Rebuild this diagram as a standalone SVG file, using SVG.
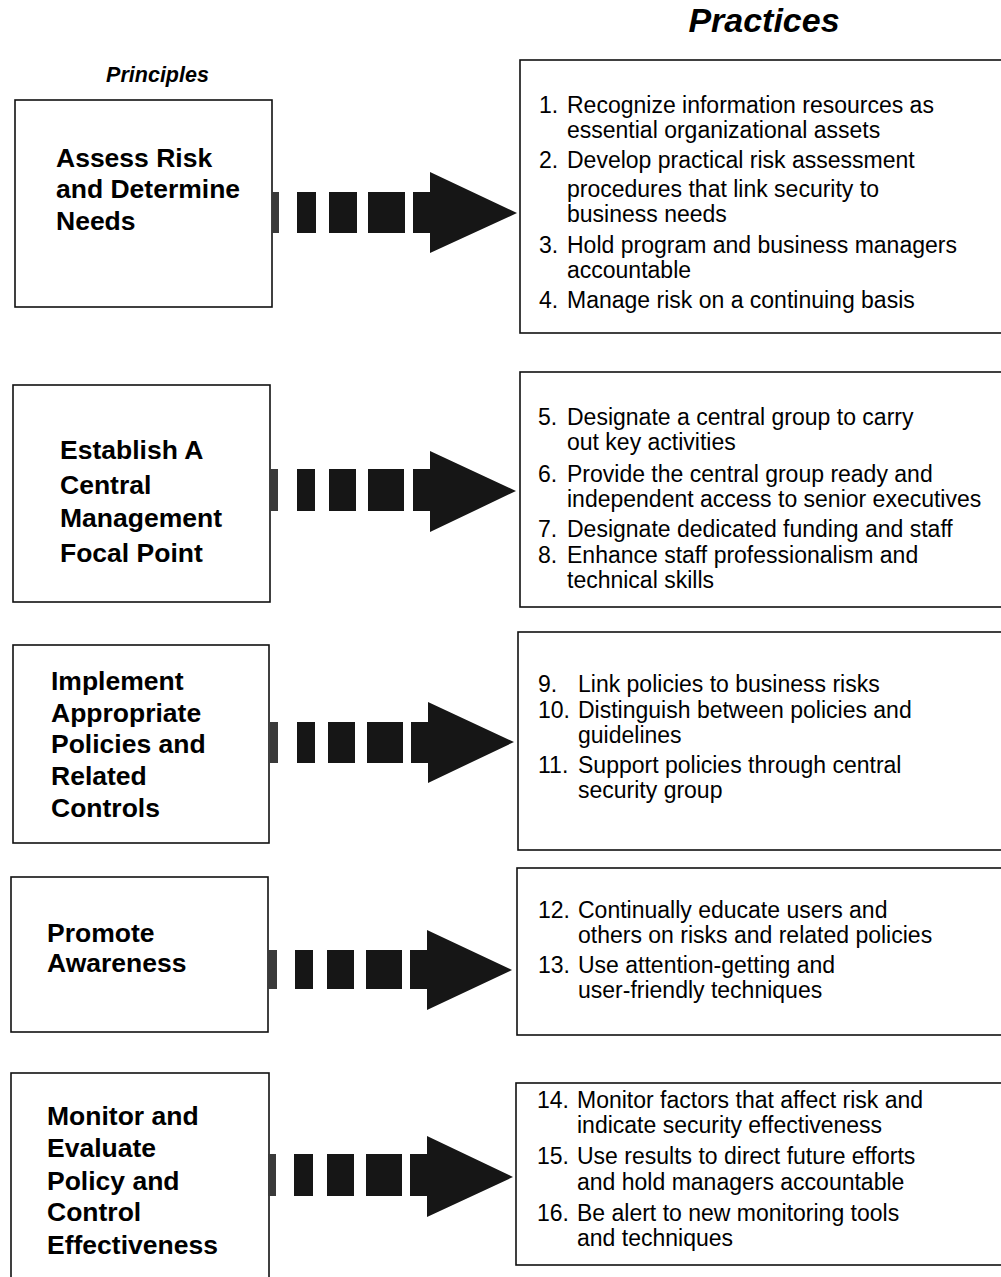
<svg xmlns="http://www.w3.org/2000/svg" width="1001" height="1277" viewBox="0 0 1001 1277">
<style>
  .box { fill: #fff; stroke: #111; stroke-width: 1.6; }
  .ptitle { font-family: "Liberation Sans", Arial, sans-serif; font-weight: bold; font-size: 26.5px; fill: #000; }
  .prac { font-family: "Liberation Sans", Arial, sans-serif; font-size: 23px; fill: #000; }
  .head { font-family: "Liberation Sans", Arial, sans-serif; font-weight: bold; font-style: italic; fill: #000; }
  .blk { fill: #161616; }
  .strip { fill: #3a3a3a; }
</style>
<rect width="1001" height="1277" fill="#fff"/>

<text class="head" x="764" y="32" font-size="34" text-anchor="middle">Practices</text>
<text class="head" x="157.5" y="82" font-size="21.5" text-anchor="middle">Principles</text>

<!-- Principles -->
<g id="principle1">
  <rect class="box" x="15" y="100" width="257" height="207"/>
  <text class="ptitle" x="56" y="167">Assess Risk</text>
  <text class="ptitle" x="56" y="198">and Determine</text>
  <text class="ptitle" x="56" y="230">Needs</text>
</g>
<g id="principle2">
  <rect class="box" x="13" y="385" width="257" height="217"/>
  <text class="ptitle" x="60" y="459">Establish A</text>
  <text class="ptitle" x="60" y="494">Central</text>
  <text class="ptitle" x="60" y="527">Management</text>
  <text class="ptitle" x="60" y="562">Focal Point</text>
</g>
<g id="principle3">
  <rect class="box" x="13" y="645" width="256" height="198"/>
  <text class="ptitle" x="51" y="690">Implement</text>
  <text class="ptitle" x="51" y="722">Appropriate</text>
  <text class="ptitle" x="51" y="753">Policies and</text>
  <text class="ptitle" x="51" y="785">Related</text>
  <text class="ptitle" x="51" y="817">Controls</text>
</g>
<g id="principle4">
  <rect class="box" x="11" y="877" width="257" height="155"/>
  <text class="ptitle" x="47" y="942">Promote</text>
  <text class="ptitle" x="47" y="972">Awareness</text>
</g>
<g id="principle5">
  <rect class="box" x="11" y="1073" width="258" height="220"/>
  <text class="ptitle" x="47" y="1125">Monitor and</text>
  <text class="ptitle" x="47" y="1157">Evaluate</text>
  <text class="ptitle" x="47" y="1190">Policy and</text>
  <text class="ptitle" x="47" y="1221">Control</text>
  <text class="ptitle" x="47" y="1254">Effectiveness</text>
</g>

<!-- Practices -->
<g id="practices1">
  <rect class="box" x="520" y="60" width="500" height="273"/>
  <text class="prac" x="539" y="113">1.</text>
  <text class="prac" x="567" y="113">Recognize information resources as</text>
  <text class="prac" x="567" y="138">essential organizational assets</text>
  <text class="prac" x="539" y="168">2.</text>
  <text class="prac" x="567" y="168">Develop practical risk assessment</text>
  <text class="prac" x="567" y="197">procedures that link security to</text>
  <text class="prac" x="567" y="222">business needs</text>
  <text class="prac" x="539" y="253">3.</text>
  <text class="prac" x="567" y="253">Hold program and business managers</text>
  <text class="prac" x="567" y="278">accountable</text>
  <text class="prac" x="539" y="308">4.</text>
  <text class="prac" x="567" y="308">Manage risk on a continuing basis</text>
</g>
<g id="practices2">
  <rect class="box" x="520" y="372" width="500" height="235"/>
  <text class="prac" x="538" y="425">5.</text>
  <text class="prac" x="567" y="425">Designate a central group to carry</text>
  <text class="prac" x="567" y="450">out key activities</text>
  <text class="prac" x="538" y="482">6.</text>
  <text class="prac" x="567" y="482">Provide the central group ready and</text>
  <text class="prac" x="567" y="507">independent access to senior executives</text>
  <text class="prac" x="538" y="537">7.</text>
  <text class="prac" x="567" y="537">Designate dedicated funding and staff</text>
  <text class="prac" x="538" y="563">8.</text>
  <text class="prac" x="567" y="563">Enhance staff professionalism and</text>
  <text class="prac" x="567" y="588">technical skills</text>
</g>
<g id="practices3">
  <rect class="box" x="518" y="632" width="500" height="218"/>
  <text class="prac" x="538" y="692">9.</text>
  <text class="prac" x="578" y="692">Link policies to business risks</text>
  <text class="prac" x="538" y="718">10.</text>
  <text class="prac" x="578" y="718">Distinguish between policies and</text>
  <text class="prac" x="578" y="743">guidelines</text>
  <text class="prac" x="538" y="773">11.</text>
  <text class="prac" x="578" y="773">Support policies through central</text>
  <text class="prac" x="578" y="798">security group</text>
</g>
<g id="practices4">
  <rect class="box" x="517" y="868" width="500" height="167"/>
  <text class="prac" x="538" y="918">12.</text>
  <text class="prac" x="578" y="918">Continually educate users and</text>
  <text class="prac" x="578" y="943">others on risks and related policies</text>
  <text class="prac" x="538" y="973">13.</text>
  <text class="prac" x="578" y="973">Use attention-getting and</text>
  <text class="prac" x="578" y="998">user-friendly techniques</text>
</g>
<g id="practices5">
  <rect class="box" x="516" y="1083" width="500" height="182"/>
  <text class="prac" x="537" y="1108">14.</text>
  <text class="prac" x="577" y="1108">Monitor factors that affect risk and</text>
  <text class="prac" x="577" y="1133">indicate security effectiveness</text>
  <text class="prac" x="537" y="1164">15.</text>
  <text class="prac" x="577" y="1164">Use results to direct future efforts</text>
  <text class="prac" x="577" y="1190">and hold managers accountable</text>
  <text class="prac" x="537" y="1221">16.</text>
  <text class="prac" x="577" y="1221">Be alert to new monitoring tools</text>
  <text class="prac" x="577" y="1246">and techniques</text>
</g>

<!-- Connectors: dashed block arrows -->
<g id="connectors">
  <g id="arrow1">
    <rect class="strip" x="272" y="192" width="7" height="41"/>
    <rect class="blk" x="297" y="192" width="19" height="41"/>
    <rect class="blk" x="329" y="192" width="28" height="41"/>
    <rect class="blk" x="368" y="192" width="37" height="41"/>
    <polygon class="blk" points="413,192 430,192 430,172 517,213 430,253 430,233 413,233"/>
  </g>
  <g id="arrow2">
    <rect class="strip" x="270" y="469" width="8" height="42"/>
    <rect class="blk" x="297" y="469" width="18" height="42"/>
    <rect class="blk" x="329" y="469" width="27" height="42"/>
    <rect class="blk" x="368" y="469" width="36" height="42"/>
    <polygon class="blk" points="413,469 430,469 430,451 516,491 430,532 430,511 413,511"/>
  </g>
  <g id="arrow3">
    <rect class="strip" x="270" y="722" width="8" height="41"/>
    <rect class="blk" x="297" y="722" width="18" height="41"/>
    <rect class="blk" x="328" y="722" width="27" height="41"/>
    <rect class="blk" x="367" y="722" width="36" height="41"/>
    <polygon class="blk" points="411,722 428,722 428,702 514,742 428,783 428,763 411,763"/>
  </g>
  <g id="arrow4">
    <rect class="strip" x="268" y="950" width="9" height="39"/>
    <rect class="blk" x="295" y="950" width="18" height="39"/>
    <rect class="blk" x="327" y="950" width="27" height="39"/>
    <rect class="blk" x="366" y="950" width="36" height="39"/>
    <polygon class="blk" points="410,950 427,950 427,930 512,970 427,1010 427,989 410,989"/>
  </g>
  <g id="arrow5">
    <rect class="strip" x="268" y="1154" width="8" height="42"/>
    <rect class="blk" x="294" y="1154" width="19" height="42"/>
    <rect class="blk" x="327" y="1154" width="27" height="42"/>
    <rect class="blk" x="366" y="1154" width="36" height="42"/>
    <polygon class="blk" points="410,1154 427,1154 427,1136 513,1177 427,1217 427,1196 410,1196"/>
  </g>
</g>
</svg>
